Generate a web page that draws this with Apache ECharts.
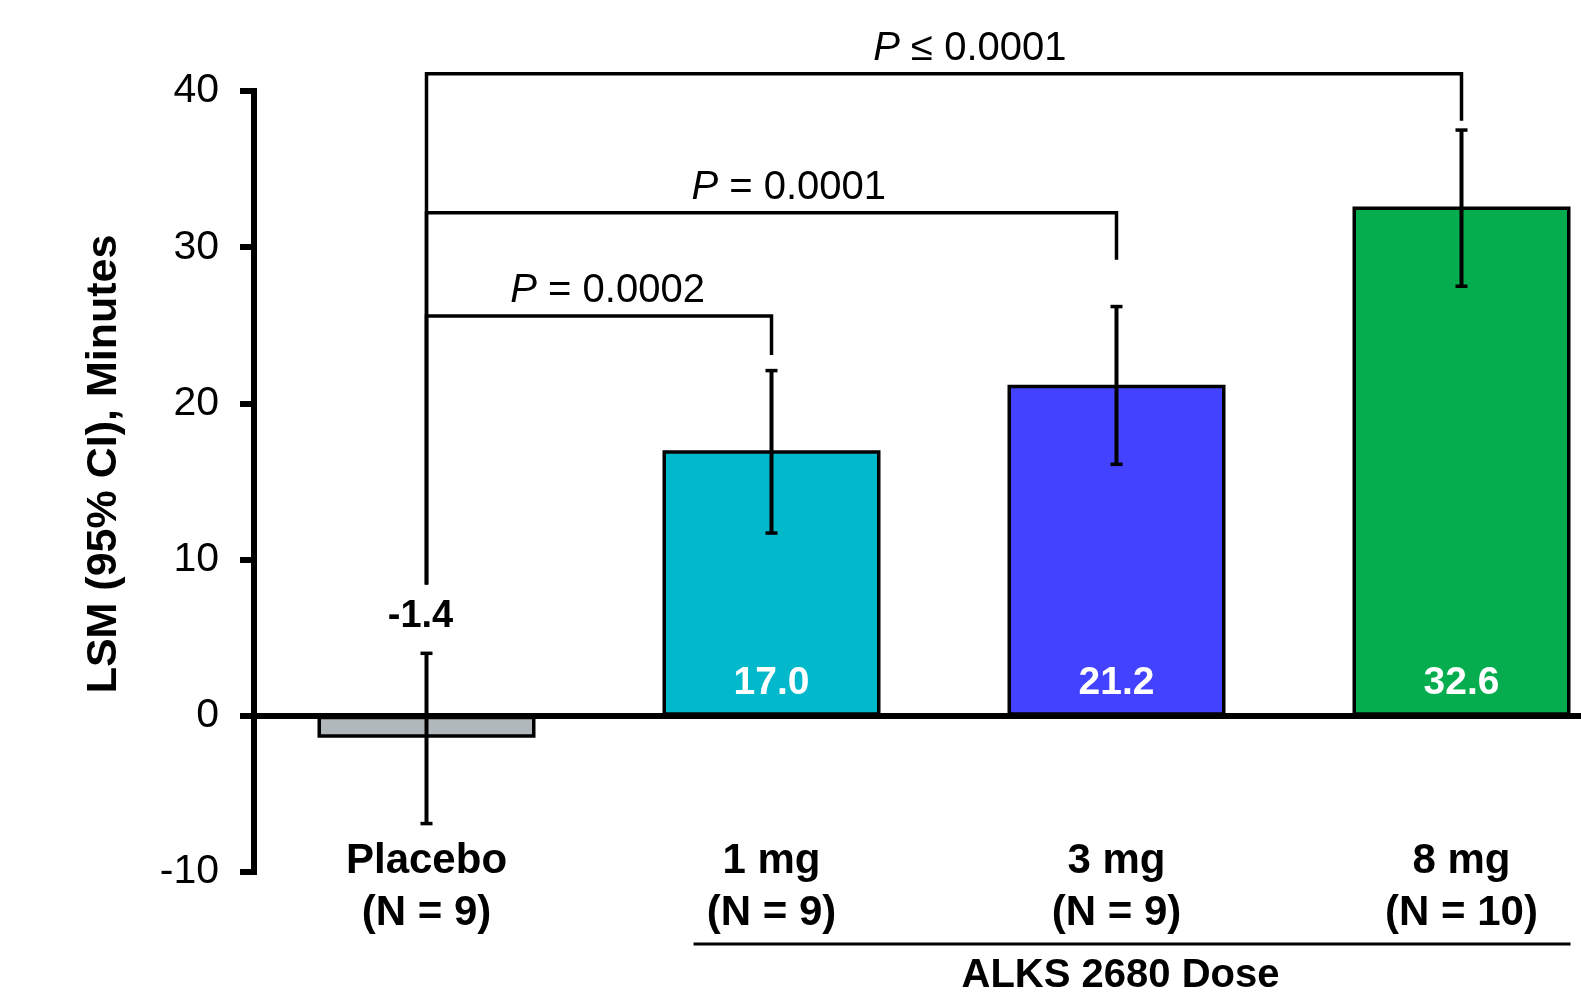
<!DOCTYPE html>
<html>
<head>
<meta charset="utf-8">
<script src="https://cdn.jsdelivr.net/npm/echarts@6/dist/echarts.min.js"></script>
<style>html,body{margin:0;padding:0;background:#fff}#c{width:1581px;height:993px}</style>
</head>
<body>
<div id="c"></div>
<script>
// ---- data ----
const categories = ['Placebo\n(N = 9)', '1 mg\n(N = 9)', '3 mg\n(N = 9)', '8 mg\n(N = 10)'];
const lsmValues = [-1.4, 17.0, 21.2, 32.6];
const ciLower = [-6.9, 11.7, 16.1, 27.5];
const ciUpper = [4.0, 22.1, 26.2, 37.5];
const valueLabels = ['-1.4', '17.0', '21.2', '32.6'];
const yMin = -10, yMax = 40, yStep = 10;
// comparisons vs placebo (category 0)
const compTarget = [1, 2, 3];
const compLevel = [25.6, 32.2, 41.1];
const compDropEnd = [23.1, 29.2, 38.1];
const compPText = ['= 0.0002', '= 0.0001', '\u2264 0.0001'];
const placeboStemBottom = 8.4;
const yTitle = 'LSM (95% CI), Minutes';
const groupLabel = 'ALKS 2680 Dose';
const groupFrom = 1, groupTo = 3;

// ---- style ----
const barColors = ['#B0B8BC', '#02B8CB', '#4242FF', '#05AD4E'];
const FONT = '"Liberation Sans", Arial, Helvetica, sans-serif';

const chart = echarts.init(document.getElementById('c'));

const option = {
  backgroundColor: '#fff',
  animation: false,
  grid: { left: 254, top: 91, height: 781, width: 1380, containLabel: false, outerBoundsMode: 'none' },
  xAxis: {
    type: 'category',
    data: categories,
    axisLine: { onZero: true, lineStyle: { color: '#000', width: 6 } },
    axisTick: { show: false },
    axisLabel: {
      interval: 0, margin: -37, color: '#000', fontSize: 42, fontWeight: 'bold',
      fontFamily: FONT, lineHeight: 52
    },
    splitLine: { show: false }
  },
  yAxis: {
    type: 'value',
    min: yMin, max: yMax, interval: yStep,
    axisLine: { show: true, lineStyle: { color: '#000', width: 6, cap: 'square' } },
    axisTick: { show: true, length: 14, lineStyle: { color: '#000', width: 6 } },
    axisLabel: { margin: 35, color: '#000', fontSize: 41, fontFamily: FONT },
    splitLine: { show: false }
  },
  graphic: [
    {
      type: 'text', x: 104, y: 464, rotation: Math.PI / 2,
      style: {
        text: yTitle, fill: '#000', font: 'bold 43px ' + FONT,
        textAlign: 'center', textVerticalAlign: 'middle',
        align: 'center', verticalAlign: 'middle'
      }
    }
  ],
  series: [
    {
      type: 'bar',
      data: lsmValues.map((v, i) => ({ value: v, itemStyle: { color: barColors[i] } })),
      barWidth: 218,
      itemStyle: { borderColor: '#000', borderWidth: 3.5 },
      z: 2
    },
    {
      // error bars + value labels
      type: 'custom',
      z: 5,
      data: categories.map((c, i) => [i, ciLower[i], ciUpper[i], lsmValues[i]]),
      renderItem: function (params, api) {
        const i = api.value(0);
        const lo = api.coord([i, api.value(1)]);
        const hi = api.coord([i, api.value(2)]);
        const base = api.coord([i, 0]);
        const v = api.value(3);
        const cap = 6;
        const children = [
          { type: 'line', shape: { x1: hi[0], y1: hi[1], x2: lo[0], y2: lo[1] }, style: { stroke: '#000', lineWidth: 4 } },
          { type: 'line', shape: { x1: hi[0] - cap, y1: hi[1], x2: hi[0] + cap, y2: hi[1] }, style: { stroke: '#000', lineWidth: 3.5 } },
          { type: 'line', shape: { x1: lo[0] - cap, y1: lo[1], x2: lo[0] + cap, y2: lo[1] }, style: { stroke: '#000', lineWidth: 3.5 } }
        ];
        const idx = params.dataIndex;
        if (v >= 0) {
          children.push({ type: 'text', style: {
            text: valueLabels[idx], x: base[0], y: base[1] - 33, fill: '#fff',
            font: 'bold 39px ' + FONT, align: 'center', verticalAlign: 'middle',
            textAlign: 'center', textVerticalAlign: 'middle' } });
        } else {
          children.push({ type: 'text', style: {
            text: valueLabels[idx], x: hi[0] - 6, y: hi[1] - 37, fill: '#000',
            font: 'bold 38px ' + FONT, align: 'center', verticalAlign: 'middle',
            textAlign: 'center', textVerticalAlign: 'middle' } });
        }
        return { type: 'group', children: children };
      }
    },
    {
      // significance brackets
      type: 'custom',
      z: 6,
      clip: false,
      data: compTarget.map((t, k) => [0, t, compLevel[k], compDropEnd[k]]),
      renderItem: function (params, api) {
        const k = params.dataIndex;
        const a = api.coord([api.value(0), api.value(2)]);
        const b = api.coord([api.value(1), api.value(2)]);
        const bEnd = api.coord([api.value(1), api.value(3)]);
        const stemEnd = api.coord([api.value(0), placeboStemBottom]);
        const tx = a[0] + (b[0] - a[0]) * 0.525;
        return {
          type: 'group',
          children: [
            { type: 'polyline', shape: { points: [[stemEnd[0], stemEnd[1]], [a[0], a[1]], [b[0], b[1]], [bEnd[0], bEnd[1]]] },
              style: { stroke: '#000', lineWidth: 3.5, fill: null } },
            { type: 'text', style: {
              text: '{it|P} ' + compPText[k], x: tx, y: a[1] - 25,
              fill: '#000', font: '40px ' + FONT,
              rich: { it: { fontStyle: 'italic', fontSize: 40, fontFamily: FONT, fill: '#000' } },
              align: 'center', verticalAlign: 'middle', textAlign: 'center', textVerticalAlign: 'middle' } }
          ]
        };
      }
    },
    {
      // group label under doses
      type: 'custom',
      z: 6,
      clip: false,
      data: [[groupFrom, groupTo]],
      renderItem: function (params, api) {
        const p0 = api.coord([api.value(0), yMin]);
        const p1 = api.coord([api.value(1), yMin]);
        const band = api.size([1, 0])[0];
        const mid = api.coord([(api.value(0) + api.value(1)) / 2, yMin]);
        const lineY = p0[1] + 72;
        return {
          type: 'group',
          children: [
            { type: 'line', shape: { x1: p0[0] - band * 0.226, y1: lineY, x2: p1[0] + band * 0.316, y2: lineY },
              style: { stroke: '#000', lineWidth: 3 } },
            { type: 'text', style: {
              text: groupLabel, x: mid[0] + 4, y: lineY + 32, fill: '#000', font: 'bold 40px ' + FONT,
              align: 'center', verticalAlign: 'middle', textAlign: 'center', textVerticalAlign: 'middle' } }
          ]
        };
      }
    }
  ]
};
chart.setOption(option);
</script>
</body>
</html>
